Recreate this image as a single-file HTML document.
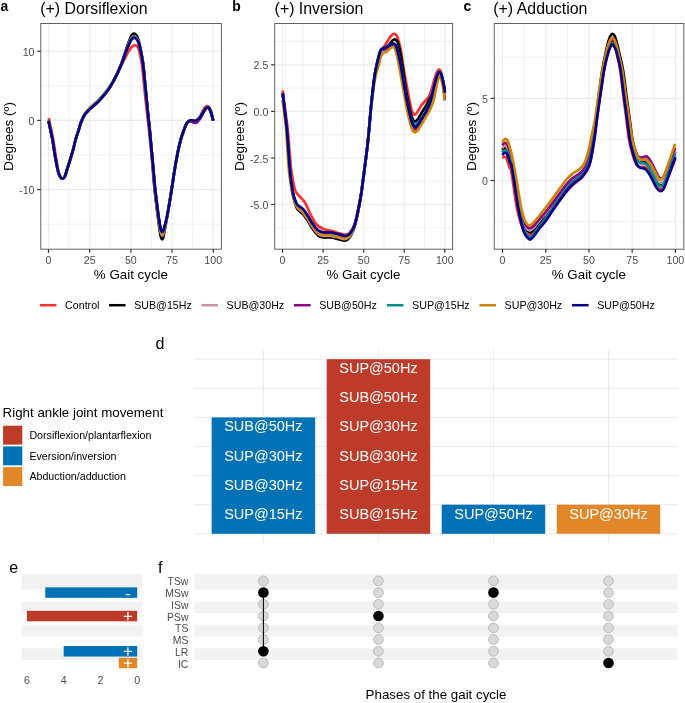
<!DOCTYPE html>
<html lang="en"><head><meta charset="utf-8"><title>Figure</title>
<style>html,body{margin:0;padding:0;background:#fff}body{width:685px;height:703px;overflow:hidden;font-family:"Liberation Sans",sans-serif}svg{display:block;will-change:transform}</style></head>
<body>
<svg width="685" height="703" viewBox="0 0 685 703" font-family='"Liberation Sans", sans-serif'>
<rect width="685" height="703" fill="#fff"/>
<g>
<rect x="40.8" y="23.5" width="180.6" height="225.7" fill="#fff"/>
<line x1="69.09" x2="69.09" y1="23.5" y2="249.2" stroke="#EBEBEB" stroke-width="0.7"/>
<line x1="110.26" x2="110.26" y1="23.5" y2="249.2" stroke="#EBEBEB" stroke-width="0.7"/>
<line x1="151.44" x2="151.44" y1="23.5" y2="249.2" stroke="#EBEBEB" stroke-width="0.7"/>
<line x1="192.61" x2="192.61" y1="23.5" y2="249.2" stroke="#EBEBEB" stroke-width="0.7"/>
<line x1="40.8" x2="221.4" y1="224.2" y2="224.2" stroke="#EBEBEB" stroke-width="0.7"/>
<line x1="40.8" x2="221.4" y1="155" y2="155" stroke="#EBEBEB" stroke-width="0.7"/>
<line x1="40.8" x2="221.4" y1="85.8" y2="85.8" stroke="#EBEBEB" stroke-width="0.7"/>
<line x1="48.5" x2="48.5" y1="23.5" y2="249.2" stroke="#EBEBEB" stroke-width="1.15"/>
<line x1="89.67" x2="89.67" y1="23.5" y2="249.2" stroke="#EBEBEB" stroke-width="1.15"/>
<line x1="130.85" x2="130.85" y1="23.5" y2="249.2" stroke="#EBEBEB" stroke-width="1.15"/>
<line x1="172.03" x2="172.03" y1="23.5" y2="249.2" stroke="#EBEBEB" stroke-width="1.15"/>
<line x1="213.2" x2="213.2" y1="23.5" y2="249.2" stroke="#EBEBEB" stroke-width="1.15"/>
<line x1="40.8" x2="221.4" y1="189.6" y2="189.6" stroke="#EBEBEB" stroke-width="1.15"/>
<line x1="40.8" x2="221.4" y1="120.4" y2="120.4" stroke="#EBEBEB" stroke-width="1.15"/>
<line x1="40.8" x2="221.4" y1="51.2" y2="51.2" stroke="#EBEBEB" stroke-width="1.15"/>
<path d="M48.8 118.1C49.17 119.85 50.25 125.01 51 128.63C51.74 132.25 52.48 135.33 53.26 139.82C54.04 144.32 54.82 150.4 55.68 155.6C56.55 160.79 57.66 167.45 58.45 171C59.24 174.55 59.75 175.62 60.44 176.9C61.13 178.18 61.86 178.77 62.59 178.7C63.33 178.63 63.98 178.37 64.83 176.5C65.68 174.63 66.36 171.83 67.7 167.5C69.05 163.17 71.6 155.08 72.9 150.5C74.2 145.92 74.53 143.42 75.5 140C76.47 136.58 77.78 132.93 78.7 130C79.62 127.07 80 124.95 81 122.4C82 119.85 83.25 116.92 84.7 114.7C86.15 112.48 87.48 111.23 89.7 109.1C91.92 106.97 95.48 104.38 98 101.9C100.52 99.42 102.75 96.75 104.8 94.2C106.85 91.65 108.3 89.83 110.3 86.61C112.3 83.4 114.87 78.61 116.8 74.91C118.73 71.22 120.2 67.91 121.9 64.45C123.6 60.98 125.52 56.86 127 54.13C128.48 51.39 129.9 49.33 130.8 48.04C131.69 46.74 131.88 46.78 132.39 46.36C132.9 45.95 133.35 45.65 133.87 45.52C134.39 45.39 134.97 45.43 135.51 45.56C136.05 45.68 136.51 45.47 137.11 46.27C137.7 47.07 138.25 47.21 139.07 50.35C139.89 53.48 141.11 58.57 142.01 65.09C142.92 71.6 143.64 81.24 144.5 89.46C145.36 97.68 146.42 107.6 147.17 114.4C147.93 121.2 148.18 121.96 149.04 130.26C149.89 138.55 151.39 154.25 152.31 164.16C153.24 174.07 153.63 181.19 154.56 189.72C155.49 198.24 157.01 209.06 157.92 215.3C158.83 221.55 159.48 224.62 160.01 227.2C160.54 229.78 160.74 230 161.1 230.8C161.47 231.6 161.82 232 162.18 232C162.53 232 162.86 231.6 163.23 230.8C163.59 230 163.69 229.78 164.36 227.2C165.04 224.62 166.09 221.55 167.3 215.3C168.5 209.05 170.22 198.23 171.6 189.7C172.98 181.17 174.25 171.78 175.6 164.1C176.95 156.42 178.32 149.28 179.7 143.6C181.08 137.92 182.63 133.52 183.9 130.01C185.17 126.51 186.17 124.05 187.3 122.59C188.43 121.13 189.3 121.25 190.7 121.25C192.09 121.26 194.23 123.21 195.67 122.64C197.12 122.08 198.09 120.04 199.39 117.86C200.69 115.68 202.43 111.4 203.48 109.57C204.52 107.74 205 107.46 205.65 106.88C206.31 106.31 206.81 106.01 207.4 106.11C207.99 106.21 208.58 106.45 209.21 107.48C209.83 108.5 210.47 110.1 211.13 112.25C211.8 114.39 212.84 119 213.18 120.35" fill="none" stroke="#FF3030" stroke-width="2.7" stroke-linejoin="round" stroke-linecap="butt"/>
<path d="M48.5 120.7C48.83 122.25 49.82 126.78 50.5 130C51.18 133.22 51.85 135.73 52.6 140C53.35 144.27 54.1 150.43 55 155.6C55.9 160.77 57.13 167.45 58 171C58.87 174.55 59.45 175.62 60.2 176.9C60.95 178.18 61.73 178.77 62.5 178.7C63.27 178.63 63.93 178.37 64.8 176.5C65.67 174.63 66.35 171.83 67.7 167.5C69.05 163.17 71.6 155.08 72.9 150.5C74.2 145.92 74.53 143.42 75.5 140C76.47 136.58 77.78 132.93 78.7 130C79.62 127.07 80 124.95 81 122.4C82 119.85 83.25 116.92 84.7 114.7C86.15 112.48 87.48 111.23 89.7 109.1C91.92 106.97 95.48 104.38 98 101.9C100.52 99.42 102.75 96.75 104.8 94.2C106.85 91.65 108.3 89.88 110.3 86.6C112.3 83.32 114.87 78.61 116.8 74.53C118.73 70.45 120.2 66.75 121.9 62.12C123.6 57.48 125.52 50.94 127 46.72C128.48 42.5 129.9 38.84 130.8 36.79C131.7 34.74 131.88 34.95 132.4 34.42C132.92 33.9 133.37 33.62 133.9 33.65C134.43 33.68 135.03 34.06 135.6 34.6C136.17 35.14 136.65 35.42 137.3 36.9C137.95 38.39 138.57 39.38 139.5 43.53C140.43 47.69 141.9 54.43 142.9 61.84C143.9 69.24 144.65 79.29 145.5 87.95C146.34 96.61 147.29 106.78 147.98 113.78C148.67 120.78 148.86 121.56 149.64 129.95C150.42 138.33 151.79 154.12 152.64 164.1C153.5 174.07 153.88 180.93 154.76 189.79C155.64 198.65 157.07 210.16 157.94 217.26C158.81 224.35 159.46 228.99 159.98 232.36C160.5 235.74 160.7 236.34 161.06 237.5C161.42 238.65 161.78 239.3 162.14 239.3C162.49 239.3 162.83 238.68 163.2 237.5C163.57 236.31 163.66 235.74 164.34 232.18C165.03 228.63 166.08 223.22 167.29 216.14C168.5 209.06 170.22 198.38 171.6 189.7C172.98 181.03 174.25 171.78 175.6 164.1C176.95 156.42 178.32 149.28 179.7 143.6C181.08 137.92 182.63 133.53 183.9 130C185.17 126.47 186.17 124.02 187.3 122.4C188.43 120.78 189.28 120.58 190.7 120.3C192.12 120.02 194.23 121.2 195.8 120.7C197.37 120.2 198.67 119.02 200.1 117.3C201.53 115.58 203.37 111.93 204.4 110.4C205.43 108.87 205.73 108.6 206.3 108.1C206.87 107.6 207.28 107.32 207.8 107.4C208.32 107.48 208.83 107.67 209.4 108.6C209.97 109.53 210.57 110.98 211.2 113C211.83 115.02 212.87 119.42 213.2 120.7" fill="none" stroke="#000000" stroke-width="2.7" stroke-linejoin="round" stroke-linecap="butt"/>
<path d="M48.5 120.7C48.83 122.25 49.82 126.78 50.5 130C51.18 133.22 51.85 135.73 52.6 140C53.35 144.27 54.1 150.43 55 155.6C55.9 160.77 57.13 167.45 58 171C58.87 174.55 59.45 175.62 60.2 176.9C60.95 178.18 61.73 178.77 62.5 178.7C63.27 178.63 63.93 178.37 64.8 176.5C65.67 174.63 66.35 171.83 67.7 167.5C69.05 163.17 71.6 155.08 72.9 150.5C74.2 145.92 74.53 143.42 75.5 140C76.47 136.58 77.78 132.93 78.7 130C79.62 127.07 80 124.95 81 122.4C82 119.85 83.25 116.92 84.7 114.7C86.15 112.48 87.48 111.23 89.7 109.1C91.92 106.97 95.48 104.38 98 101.9C100.52 99.42 102.75 96.75 104.8 94.2C106.85 91.65 108.3 89.87 110.3 86.6C112.3 83.33 114.87 78.59 116.8 74.58C118.73 70.56 120.2 66.89 121.9 62.48C123.6 58.08 125.52 52.04 127 48.15C128.48 44.25 129.9 40.98 130.8 39.11C131.7 37.24 131.88 37.41 132.4 36.91C132.92 36.41 133.37 36.13 133.9 36.12C134.43 36.11 135.03 36.41 135.6 36.85C136.17 37.29 136.65 37.45 137.3 38.78C137.95 40.11 138.57 40.89 139.5 44.82C140.43 48.76 141.9 55.15 142.9 62.38C143.9 69.6 144.65 79.59 145.5 88.17C146.35 96.75 147.3 106.89 148 113.86C148.7 120.82 148.88 121.61 149.7 129.98C150.52 138.35 151.98 154.14 152.9 164.1C153.82 174.06 154.28 181.06 155.2 189.73C156.12 198.4 157.55 209.46 158.4 216.12C159.25 222.77 159.82 226.64 160.3 229.64C160.78 232.63 160.97 233.07 161.3 234.07C161.63 235.06 161.97 235.6 162.3 235.6C162.63 235.6 162.95 235.08 163.3 234.07C163.65 233.06 163.73 232.62 164.4 229.54C165.07 226.46 166.1 222.25 167.3 215.61C168.5 208.97 170.22 198.29 171.6 189.7C172.98 181.12 174.25 171.78 175.6 164.1C176.95 156.42 178.32 149.28 179.7 143.6C181.08 137.92 182.63 133.53 183.9 130C185.17 126.47 186.17 124.02 187.3 122.4C188.43 120.78 189.28 120.58 190.7 120.3C192.12 120.02 194.23 121.2 195.8 120.7C197.37 120.2 198.67 119.02 200.1 117.3C201.53 115.58 203.37 111.93 204.4 110.4C205.43 108.87 205.73 108.6 206.3 108.1C206.87 107.6 207.28 107.32 207.8 107.4C208.32 107.48 208.83 107.67 209.4 108.6C209.97 109.53 210.57 110.98 211.2 113C211.83 115.02 212.87 119.42 213.2 120.7" fill="none" stroke="#CD919E" stroke-width="2.7" stroke-linejoin="round" stroke-linecap="butt"/>
<path d="M48.5 120.7C48.83 122.25 49.82 126.78 50.5 130C51.18 133.22 51.85 135.73 52.6 140C53.35 144.27 54.1 150.43 55 155.6C55.9 160.77 57.13 167.45 58 171C58.87 174.55 59.45 175.62 60.2 176.9C60.95 178.18 61.73 178.77 62.5 178.7C63.27 178.63 63.93 178.37 64.8 176.5C65.67 174.63 66.35 171.83 67.7 167.5C69.05 163.17 71.6 155.08 72.9 150.5C74.2 145.92 74.53 143.42 75.5 140C76.47 136.58 77.78 132.93 78.7 130C79.62 127.07 80 124.95 81 122.4C82 119.85 83.25 116.92 84.7 114.7C86.15 112.48 87.48 111.23 89.7 109.1C91.92 106.97 95.48 104.38 98 101.9C100.52 99.42 102.75 96.75 104.8 94.2C106.85 91.65 108.3 89.87 110.3 86.6C112.3 83.33 114.87 78.58 116.8 74.6C118.73 70.62 120.2 66.97 121.9 62.7C123.6 58.43 125.52 52.7 127 49C128.48 45.3 129.9 42.27 130.8 40.5C131.7 38.73 131.88 38.88 132.4 38.4C132.92 37.92 133.37 37.63 133.9 37.6C134.43 37.57 135.03 37.82 135.6 38.2C136.17 38.58 136.65 38.67 137.3 39.9C137.95 41.13 138.57 41.8 139.5 45.6C140.43 49.4 141.9 55.58 142.9 62.7C143.9 69.82 144.65 79.77 145.5 88.3C146.35 96.83 147.3 106.95 148 113.9C148.7 120.85 148.88 121.63 149.7 130C150.52 138.37 151.98 154.15 152.9 164.1C153.82 174.05 154.28 181.14 155.2 189.71C156.12 198.29 157.55 209.19 158.4 215.55C159.25 221.91 159.82 225.18 160.3 227.87C160.78 230.56 160.97 230.84 161.3 231.69C161.63 232.54 161.97 232.99 162.3 233C162.63 233.01 162.95 232.59 163.3 231.75C163.65 230.91 163.73 230.66 164.4 227.94C165.07 225.23 166.1 221.83 167.3 215.45C168.5 209.08 170.22 198.26 171.6 189.7C172.98 181.14 174.25 171.78 175.6 164.1C176.95 156.42 178.32 149.28 179.7 143.6C181.08 137.92 182.63 133.53 183.9 130.04C185.17 126.55 186.17 124.12 187.3 122.67C188.43 121.21 189.28 121.27 190.7 121.31C192.12 121.35 194.23 123.34 195.8 122.9C197.37 122.46 198.67 120.71 200.1 118.68C201.53 116.65 203.37 112.45 204.4 110.71C205.43 108.97 205.73 108.76 206.3 108.22C206.87 107.67 207.28 107.38 207.8 107.45C208.32 107.51 208.83 107.69 209.4 108.62C209.97 109.54 210.57 110.99 211.2 113C211.83 115.02 212.87 119.42 213.2 120.7" fill="none" stroke="#8B008B" stroke-width="2.7" stroke-linejoin="round" stroke-linecap="butt"/>
<path d="M48.5 120.7C48.83 122.25 49.82 126.78 50.5 130C51.18 133.22 51.85 135.73 52.6 140C53.35 144.27 54.1 150.43 55 155.6C55.9 160.77 57.13 167.45 58 171C58.87 174.55 59.45 175.62 60.2 176.9C60.95 178.18 61.73 178.77 62.5 178.7C63.27 178.63 63.93 178.37 64.8 176.5C65.67 174.63 66.35 171.83 67.7 167.49C69.05 163.16 71.6 155.06 72.9 150.47C74.2 145.88 74.53 143.37 75.5 139.94C76.47 136.51 77.78 132.83 78.7 129.87C79.62 126.91 80 124.79 81 122.19C82 119.6 83.25 116.61 84.7 114.31C86.15 112 87.48 110.62 89.7 108.34C91.92 106.06 95.48 103.18 98 100.63C100.52 98.08 102.75 95.51 104.8 93.04C106.85 90.58 108.3 88.97 110.3 85.84C112.3 82.71 114.87 78.18 116.8 74.28C118.73 70.38 120.2 66.75 121.9 62.44C123.6 58.13 125.52 52.21 127 48.4C128.48 44.59 129.9 41.4 130.8 39.56C131.7 37.73 131.88 37.89 132.4 37.4C132.92 36.91 133.37 36.63 133.9 36.61C134.43 36.59 135.03 36.87 135.6 37.3C136.17 37.72 136.65 37.85 137.3 39.15C137.95 40.45 138.57 41.19 139.5 45.08C140.43 48.97 141.9 55.3 142.9 62.48C143.9 69.67 144.65 79.65 145.5 88.21C146.35 96.78 147.3 106.91 148 113.87C148.7 120.83 148.88 121.62 149.7 129.99C150.52 138.36 151.98 154.14 152.9 164.1C153.82 174.05 154.28 181.12 155.2 189.72C156.12 198.32 157.55 209.27 158.4 215.68C159.25 222.1 159.82 225.47 160.3 228.21C160.78 230.95 160.97 231.25 161.3 232.13C161.63 233.01 161.97 233.48 162.3 233.5C162.63 233.51 162.95 233.09 163.3 232.22C163.65 231.36 163.73 231.1 164.4 228.32C165.07 225.53 166.1 221.96 167.3 215.53C168.5 209.09 170.22 198.27 171.6 189.7C172.98 181.13 174.25 171.78 175.6 164.1C176.95 156.42 178.32 149.28 179.7 143.6C181.08 137.92 182.63 133.53 183.9 130C185.17 126.47 186.17 124.02 187.3 122.4C188.43 120.78 189.28 120.58 190.7 120.3C192.12 120.02 194.23 121.2 195.8 120.7C197.37 120.2 198.67 119.02 200.1 117.3C201.53 115.58 203.37 111.93 204.4 110.4C205.43 108.87 205.73 108.6 206.3 108.1C206.87 107.6 207.28 107.32 207.8 107.4C208.32 107.48 208.83 107.67 209.4 108.6C209.97 109.53 210.57 110.98 211.2 113C211.83 115.02 212.87 119.42 213.2 120.7" fill="none" stroke="#008B8B" stroke-width="2.7" stroke-linejoin="round" stroke-linecap="butt"/>
<path d="M48.5 120.7C48.83 122.25 49.82 126.78 50.5 130C51.18 133.22 51.85 135.73 52.6 140C53.35 144.27 54.1 150.43 55 155.6C55.9 160.77 57.13 167.45 58 171C58.87 174.55 59.45 175.62 60.2 176.9C60.95 178.18 61.73 178.76 62.5 178.7C63.27 178.63 63.93 178.36 64.8 176.49C65.67 174.62 66.35 171.82 67.7 167.48C69.05 163.14 71.6 155.03 72.9 150.43C74.2 145.82 74.53 143.31 75.5 139.87C76.47 136.43 77.78 132.73 78.7 129.77C79.62 126.8 80 124.67 81 122.07C82 119.47 83.25 116.47 84.7 114.18C86.15 111.88 87.48 110.51 89.7 108.32C91.92 106.13 95.48 103.49 98 101.04C100.52 98.6 102.75 96.1 104.8 93.65C106.85 91.2 108.3 89.52 110.3 86.33C112.3 83.14 114.87 78.47 116.8 74.51C118.73 70.56 120.2 66.9 121.9 62.6C123.6 58.3 125.52 52.47 127 48.71C128.48 44.95 129.9 41.84 130.8 40.04C131.7 38.23 131.88 38.39 132.4 37.9C132.92 37.41 133.37 37.13 133.9 37.11C134.43 37.08 135.03 37.35 135.6 37.75C136.17 38.15 136.65 38.26 137.3 39.53C137.95 40.79 138.57 41.5 139.5 45.34C140.43 49.19 141.9 55.44 142.9 62.59C143.9 69.74 144.65 79.71 145.5 88.26C146.35 96.81 147.3 106.93 147.99 113.89C148.69 120.84 148.88 121.62 149.68 129.99C150.48 138.36 151.91 154.15 152.79 164.1C153.68 174.05 154.1 181.11 154.98 189.71C155.87 198.32 157.26 209.28 158.1 215.75C158.95 222.23 159.56 225.74 160.06 228.55C160.56 231.36 160.76 231.71 161.11 232.61C161.46 233.52 161.81 234 162.16 234C162.51 234 162.84 233.53 163.2 232.61C163.57 231.7 163.66 231.36 164.34 228.5C165.02 225.64 166.08 221.94 167.29 215.47C168.5 209.01 170.21 198.26 171.6 189.7C172.98 181.14 174.25 171.78 175.6 164.1C176.95 156.42 178.32 149.28 179.7 143.6C181.08 137.92 182.63 133.53 183.9 130C185.17 126.47 186.17 124.02 187.3 122.4C188.43 120.78 189.28 120.58 190.7 120.3C192.12 120.02 194.23 121.2 195.8 120.7C197.37 120.2 198.67 119.02 200.1 117.3C201.53 115.58 203.37 111.93 204.4 110.4C205.43 108.87 205.73 108.6 206.3 108.1C206.87 107.6 207.28 107.32 207.8 107.4C208.32 107.48 208.83 107.67 209.4 108.6C209.97 109.53 210.57 110.98 211.2 113C211.83 115.02 212.87 119.42 213.2 120.7" fill="none" stroke="#CD8500" stroke-width="2.7" stroke-linejoin="round" stroke-linecap="butt"/>
<path d="M48.5 120.7C48.83 122.25 49.82 126.78 50.5 130C51.18 133.22 51.85 135.73 52.6 140C53.35 144.27 54.1 150.43 55 155.6C55.9 160.77 57.13 167.45 58 171C58.87 174.55 59.45 175.62 60.2 176.9C60.95 178.18 61.73 178.77 62.5 178.7C63.27 178.63 63.93 178.37 64.8 176.5C65.67 174.63 66.35 171.83 67.7 167.5C69.05 163.17 71.6 155.08 72.9 150.5C74.2 145.92 74.53 143.42 75.5 140C76.47 136.58 77.78 132.93 78.7 130C79.62 127.07 80 124.95 81 122.4C82 119.85 83.25 116.92 84.7 114.7C86.15 112.48 87.48 111.23 89.7 109.1C91.92 106.97 95.48 104.38 98 101.9C100.52 99.42 102.75 96.75 104.8 94.2C106.85 91.65 108.3 89.87 110.3 86.6C112.3 83.33 114.87 78.58 116.8 74.6C118.73 70.62 120.2 66.97 121.9 62.7C123.6 58.43 125.52 52.7 127 49C128.48 45.3 129.9 42.27 130.8 40.5C131.7 38.73 131.88 38.88 132.4 38.4C132.92 37.92 133.37 37.63 133.9 37.6C134.43 37.57 135.03 37.82 135.6 38.2C136.17 38.58 136.65 38.67 137.3 39.9C137.95 41.13 138.57 41.8 139.5 45.6C140.43 49.4 141.9 55.58 142.9 62.7C143.9 69.82 144.65 79.77 145.5 88.3C146.35 96.83 147.3 106.95 148 113.9C148.7 120.85 148.88 121.63 149.7 130C150.52 138.37 151.98 154.15 152.9 164.1C153.82 174.05 154.28 181.17 155.2 189.7C156.12 198.23 157.55 209.05 158.4 215.3C159.25 221.55 159.82 224.62 160.3 227.2C160.78 229.78 160.97 230 161.3 230.8C161.63 231.6 161.97 232 162.3 232C162.63 232 162.95 231.6 163.3 230.8C163.65 230 163.73 229.78 164.4 227.2C165.07 224.62 166.1 221.55 167.3 215.3C168.5 209.05 170.22 198.23 171.6 189.7C172.98 181.17 174.25 171.78 175.6 164.1C176.95 156.42 178.32 149.28 179.7 143.6C181.08 137.92 182.63 133.53 183.9 130C185.17 126.47 186.17 124.02 187.3 122.4C188.43 120.78 189.28 120.58 190.7 120.3C192.12 120.02 194.23 121.2 195.8 120.7C197.37 120.2 198.67 119.02 200.1 117.3C201.53 115.58 203.37 111.93 204.4 110.4C205.43 108.87 205.73 108.6 206.3 108.1C206.87 107.6 207.28 107.32 207.8 107.4C208.32 107.48 208.83 107.67 209.4 108.6C209.97 109.53 210.57 110.98 211.2 113C211.83 115.02 212.87 119.42 213.2 120.7" fill="none" stroke="#00008B" stroke-width="2.7" stroke-linejoin="round" stroke-linecap="butt"/>
<rect x="40.8" y="23.5" width="180.6" height="225.7" fill="none" stroke="#626262" stroke-width="1.0"/>
<line x1="48.5" x2="48.5" y1="249.2" y2="252.8" stroke="#333333" stroke-width="1.2"/>
<text x="48.5" y="263.5" font-size="10.67" text-anchor="middle" fill="#4D4D4D" font-weight="normal">0</text>
<line x1="89.67" x2="89.67" y1="249.2" y2="252.8" stroke="#333333" stroke-width="1.2"/>
<text x="89.67" y="263.5" font-size="10.67" text-anchor="middle" fill="#4D4D4D" font-weight="normal">25</text>
<line x1="130.85" x2="130.85" y1="249.2" y2="252.8" stroke="#333333" stroke-width="1.2"/>
<text x="130.85" y="263.5" font-size="10.67" text-anchor="middle" fill="#4D4D4D" font-weight="normal">50</text>
<line x1="172.03" x2="172.03" y1="249.2" y2="252.8" stroke="#333333" stroke-width="1.2"/>
<text x="172.03" y="263.5" font-size="10.67" text-anchor="middle" fill="#4D4D4D" font-weight="normal">75</text>
<line x1="213.2" x2="213.2" y1="249.2" y2="252.8" stroke="#333333" stroke-width="1.2"/>
<text x="213.2" y="263.5" font-size="10.67" text-anchor="middle" fill="#4D4D4D" font-weight="normal">100</text>
<line x1="37.2" x2="40.8" y1="189.6" y2="189.6" stroke="#333333" stroke-width="1.2"/>
<text x="34.5" y="194.2" font-size="10.67" text-anchor="end" fill="#4D4D4D" font-weight="normal">-10</text>
<line x1="37.2" x2="40.8" y1="120.4" y2="120.4" stroke="#333333" stroke-width="1.2"/>
<text x="34.5" y="125" font-size="10.67" text-anchor="end" fill="#4D4D4D" font-weight="normal">0</text>
<line x1="37.2" x2="40.8" y1="51.2" y2="51.2" stroke="#333333" stroke-width="1.2"/>
<text x="34.5" y="55.8" font-size="10.67" text-anchor="end" fill="#4D4D4D" font-weight="normal">10</text>
<text x="130.9" y="279.4" font-size="13.33" text-anchor="middle" fill="#000" font-weight="normal">% Gait cycle</text>
</g>
<g>
<rect x="274.7" y="23.5" width="177.9" height="225.7" fill="#fff"/>
<line x1="302.83" x2="302.83" y1="23.5" y2="249.2" stroke="#EBEBEB" stroke-width="0.7"/>
<line x1="343.39" x2="343.39" y1="23.5" y2="249.2" stroke="#EBEBEB" stroke-width="0.7"/>
<line x1="383.96" x2="383.96" y1="23.5" y2="249.2" stroke="#EBEBEB" stroke-width="0.7"/>
<line x1="424.52" x2="424.52" y1="23.5" y2="249.2" stroke="#EBEBEB" stroke-width="0.7"/>
<line x1="274.7" x2="452.6" y1="227.78" y2="227.78" stroke="#EBEBEB" stroke-width="0.7"/>
<line x1="274.7" x2="452.6" y1="181.23" y2="181.23" stroke="#EBEBEB" stroke-width="0.7"/>
<line x1="274.7" x2="452.6" y1="134.68" y2="134.68" stroke="#EBEBEB" stroke-width="0.7"/>
<line x1="274.7" x2="452.6" y1="88.12" y2="88.12" stroke="#EBEBEB" stroke-width="0.7"/>
<line x1="274.7" x2="452.6" y1="41.58" y2="41.58" stroke="#EBEBEB" stroke-width="0.7"/>
<line x1="282.55" x2="282.55" y1="23.5" y2="249.2" stroke="#EBEBEB" stroke-width="1.15"/>
<line x1="323.11" x2="323.11" y1="23.5" y2="249.2" stroke="#EBEBEB" stroke-width="1.15"/>
<line x1="363.68" x2="363.68" y1="23.5" y2="249.2" stroke="#EBEBEB" stroke-width="1.15"/>
<line x1="404.24" x2="404.24" y1="23.5" y2="249.2" stroke="#EBEBEB" stroke-width="1.15"/>
<line x1="444.8" x2="444.8" y1="23.5" y2="249.2" stroke="#EBEBEB" stroke-width="1.15"/>
<line x1="274.7" x2="452.6" y1="204.5" y2="204.5" stroke="#EBEBEB" stroke-width="1.15"/>
<line x1="274.7" x2="452.6" y1="157.95" y2="157.95" stroke="#EBEBEB" stroke-width="1.15"/>
<line x1="274.7" x2="452.6" y1="111.4" y2="111.4" stroke="#EBEBEB" stroke-width="1.15"/>
<line x1="274.7" x2="452.6" y1="64.85" y2="64.85" stroke="#EBEBEB" stroke-width="1.15"/>
<path d="M282.7 90.5C283.08 93.42 284.35 103.08 285 108C285.65 112.92 286.13 116.33 286.6 120C287.07 123.67 287.37 125.48 287.8 130C288.23 134.52 288.63 140.43 289.2 147.1C289.77 153.77 290.45 163.85 291.2 170C291.95 176.15 292.97 180.43 293.7 184C294.43 187.57 294.57 189.3 295.6 191.4C296.63 193.5 298.33 194.75 299.9 196.6C301.47 198.45 303.3 199.67 305 202.5C306.7 205.33 308.25 210.03 310.1 213.6C311.95 217.17 313.97 221.37 316.1 223.9C318.23 226.43 320.35 227.63 322.9 228.8C325.45 229.97 328.83 230.2 331.4 230.9C333.97 231.6 336.17 232.37 338.3 233C340.43 233.63 342.67 234.5 344.2 234.7C345.73 234.9 346.5 234.6 347.5 234.2C348.5 233.8 349.07 233.9 350.2 232.3C351.33 230.7 353.05 228.15 354.3 224.6C355.55 221.05 356.55 216.35 357.7 211C358.85 205.65 360.03 199.75 361.2 192.5C362.37 185.25 363.68 175.07 364.7 167.5C365.72 159.93 366.58 153.35 367.3 147.1C368.02 140.85 368.35 136.97 369 130C369.65 123.03 370.27 114.25 371.2 105.3C372.13 96.35 373.68 83.02 374.6 76.3C375.53 69.58 376.1 68.1 376.75 65C377.4 61.9 377.88 60.08 378.5 57.7C379.12 55.32 379.75 52.35 380.5 50.7C381.25 49.05 382.27 48.68 383 47.8C383.73 46.92 384.1 46.57 384.9 45.4C385.7 44.23 386.82 42.35 387.8 40.8C388.78 39.25 389.98 37.18 390.8 36.1C391.62 35.02 392.12 34.68 392.7 34.3C393.28 33.92 393.78 33.75 394.3 33.8C394.82 33.85 395.32 34.12 395.8 34.6C396.28 35.08 396.58 35.08 397.2 36.7C397.82 38.32 398.77 41.38 399.5 44.3C400.23 47.22 401.02 50.75 401.6 54.2C402.18 57.65 401.87 58.2 403 65C404.13 71.8 407.25 88.73 408.4 95C409.55 101.27 409.37 100.07 409.9 102.6C410.43 105.13 411.07 108.35 411.6 110.2C412.13 112.05 412.6 112.97 413.1 113.7C413.6 114.43 414.02 114.7 414.6 114.6C415.18 114.5 415.88 113.93 416.6 113.1C417.32 112.27 418.12 110.87 418.9 109.6C419.68 108.33 420.42 106.77 421.3 105.5C422.18 104.23 423.23 103.07 424.2 102C425.17 100.93 426.23 100.17 427.1 99.1C427.98 98.03 428.75 97.05 429.45 95.6C430.15 94.15 430.54 92.83 431.3 90.4C432.06 87.97 433.18 83.73 434 81C434.82 78.27 435.53 75.75 436.2 74C436.87 72.25 437.48 71.22 438 70.5C438.52 69.78 438.88 69.62 439.3 69.7C439.72 69.78 440.17 70.37 440.5 71C440.83 71.63 440.87 71.73 441.3 73.5C441.73 75.27 442.57 78.98 443.1 81.6C443.63 84.22 444.22 87.35 444.5 89.2C444.78 91.05 444.75 92.12 444.8 92.7" fill="none" stroke="#FF3030" stroke-width="2.7" stroke-linejoin="round" stroke-linecap="butt"/>
<path d="M282.7 93.42C282.98 95.86 283.88 103.6 284.4 108.04C284.92 112.49 285.38 116.4 285.8 120.08C286.22 123.77 286.5 125.6 286.9 130.14C287.3 134.69 287.67 140.17 288.2 147.37C288.73 154.56 289.3 165.39 290.1 173.34C290.9 181.28 291.93 189.35 293 195.03C294.07 200.7 295.33 204.59 296.5 207.36C297.67 210.14 298.87 210.48 300 211.66C301.13 212.84 302.05 213 303.3 214.45C304.55 215.91 305.93 217.97 307.5 220.39C309.07 222.82 310.85 226.43 312.7 229C314.55 231.57 316.62 234.38 318.6 235.8C320.58 237.22 322.47 237.22 324.6 237.5C326.73 237.78 329.12 237.22 331.4 237.5C333.68 237.78 336.17 238.65 338.3 239.18C340.43 239.71 342.67 240.62 344.2 240.68C345.73 240.75 346.5 240.25 347.5 239.58C348.5 238.9 349.03 238.73 350.2 236.63C351.37 234.53 353.22 231.02 354.5 226.97C355.78 222.92 356.77 217.97 357.9 212.34C359.03 206.71 360.17 200.69 361.3 193.22C362.43 185.75 363.7 175.22 364.7 167.53C365.7 159.85 366.58 153.37 367.3 147.11C368.02 140.86 368.35 136.97 369 130.01C369.65 123.04 370.27 114.25 371.2 105.3C372.13 96.35 373.68 83.02 374.6 76.3C375.53 69.58 376.1 68.1 376.75 65C377.4 61.9 377.88 60.08 378.5 57.7C379.12 55.32 379.72 52.25 380.5 50.7C381.28 49.15 382.17 49.03 383.2 48.4C384.23 47.77 385.53 47.72 386.7 46.9C387.87 46.08 389.23 44.57 390.2 43.5C391.17 42.43 391.77 41.2 392.5 40.5C393.23 39.8 393.97 39.33 394.6 39.3C395.23 39.27 395.77 39.77 396.3 40.3C396.83 40.83 397.17 40.67 397.8 42.5C398.43 44.33 399.33 47.55 400.1 51.3C400.87 55.05 401.65 60.22 402.4 65C403.15 69.78 403.87 75 404.6 80C405.33 85 406.13 91.03 406.8 95C407.47 98.97 407.97 100.8 408.6 103.8C409.23 106.8 409.93 110.5 410.6 113C411.27 115.5 411.89 117.37 412.6 118.8C413.31 120.23 414.18 121.3 414.85 121.6C415.52 121.9 416.01 121.13 416.6 120.6C417.19 120.07 417.52 119.75 418.4 118.4C419.28 117.05 420.73 114.45 421.9 112.5C423.07 110.55 424.33 108.55 425.4 106.7C426.47 104.85 427.42 102.98 428.3 101.4C429.18 99.82 429.93 98.85 430.7 97.2C431.47 95.55 432.1 94.2 432.9 91.5C433.7 88.8 434.73 83.82 435.5 81C436.27 78.18 436.98 76 437.5 74.6C438.02 73.2 438.26 73.03 438.6 72.6C438.94 72.17 439.23 71.97 439.55 72C439.87 72.03 440.21 72.37 440.5 72.8C440.79 73.23 440.87 73.13 441.3 74.6C441.73 76.07 442.57 79.17 443.1 81.6C443.63 84.03 444.22 87.35 444.5 89.2C444.78 91.05 444.75 92.12 444.8 92.7" fill="none" stroke="#000000" stroke-width="2.7" stroke-linejoin="round" stroke-linecap="butt"/>
<path d="M282.7 93.41C282.98 95.85 283.88 103.59 284.4 108.03C284.92 112.47 285.38 116.38 285.8 120.06C286.22 123.73 286.5 125.56 286.9 130.09C287.3 134.63 287.67 140.11 288.2 147.28C288.73 154.45 289.3 165.27 290.1 173.12C290.9 180.97 291.93 188.9 293 194.38C294.07 199.87 295.33 203.43 296.5 206.04C297.67 208.65 298.87 208.92 300 210.04C301.13 211.16 302.05 211.32 303.3 212.77C304.55 214.21 305.93 216.27 307.5 218.7C309.07 221.12 310.85 224.73 312.7 227.3C314.55 229.87 316.62 232.68 318.6 234.1C320.58 235.52 322.47 235.52 324.6 235.8C326.73 236.08 329.12 235.52 331.4 235.8C333.68 236.08 336.17 236.94 338.3 237.49C340.43 238.03 342.67 238.95 344.2 239.06C345.73 239.16 346.5 238.71 347.5 238.12C348.5 237.52 349.03 237.42 350.2 235.49C351.37 233.55 353.22 230.4 354.5 226.51C355.78 222.63 356.77 217.75 357.9 212.19C359.03 206.64 360.17 200.63 361.3 193.18C362.43 185.74 363.7 175.2 364.7 167.52C365.7 159.84 366.58 153.36 367.3 147.11C368.02 140.85 368.35 136.97 369 130C369.65 123.04 370.27 114.25 371.2 105.3C372.13 96.35 373.68 83.02 374.6 76.3C375.53 69.58 376.1 68.1 376.75 65C377.4 61.9 377.88 60.09 378.5 57.71C379.12 55.33 379.72 52.26 380.5 50.74C381.28 49.22 382.17 49.1 383.2 48.57C384.23 48.05 385.53 47.97 386.7 47.59C387.87 47.2 389.13 46.68 390.2 46.27C391.27 45.86 392.23 45.16 393.1 45.15C393.97 45.14 394.72 45.35 395.4 46.19C396.08 47.03 396.62 48.42 397.2 50.21C397.78 52 398.32 54.41 398.9 56.91C399.48 59.42 399.55 58.79 400.7 65.23C401.85 71.67 404.66 88.95 405.8 95.54C406.94 102.13 406.92 101.47 407.55 104.77C408.18 108.07 408.88 112.01 409.6 115.35C410.33 118.7 411.22 122.63 411.9 124.87C412.58 127.11 413.16 127.93 413.7 128.8C414.24 129.67 414.62 130.07 415.15 130.1C415.68 130.13 416.17 129.94 416.9 128.99C417.62 128.03 418.48 126.31 419.5 124.38C420.52 122.46 421.83 119.64 423 117.41C424.17 115.18 425.5 112.98 426.5 111C427.5 109.03 428.27 107.39 429 105.55C429.73 103.72 430.25 102.36 430.9 100.02C431.55 97.68 432.13 94.67 432.9 91.5C433.67 88.33 434.73 83.82 435.5 81C436.27 78.18 436.98 76 437.5 74.6C438.02 73.2 438.26 73.03 438.6 72.6C438.94 72.17 439.23 71.97 439.55 72C439.87 72.03 440.21 72.37 440.5 72.8C440.79 73.23 440.87 73.13 441.3 74.6C441.73 76.07 442.57 79.17 443.1 81.6C443.63 84.03 444.22 87.35 444.5 89.2C444.78 91.05 444.75 92.12 444.8 92.7" fill="none" stroke="#CD919E" stroke-width="2.7" stroke-linejoin="round" stroke-linecap="butt"/>
<path d="M282.7 93.41C282.98 95.84 283.88 103.58 284.4 108.01C284.92 112.45 285.38 116.35 285.8 120.03C286.22 123.7 286.5 125.52 286.9 130.04C287.3 134.57 287.67 140.04 288.2 147.18C288.73 154.33 289.3 165.15 290.1 172.9C290.9 180.65 291.93 188.41 293 193.7C294.07 198.99 295.33 202.21 296.5 204.64C297.67 207.08 298.87 207.27 300 208.32C301.13 209.38 302.05 209.56 303.3 210.98C304.55 212.41 305.93 214.48 307.5 216.9C309.07 219.32 310.85 222.93 312.7 225.5C314.55 228.07 316.62 230.88 318.6 232.3C320.58 233.72 322.47 233.72 324.6 234C326.73 234.28 329.12 233.72 331.4 234C333.68 234.28 336.17 235.14 338.3 235.69C340.43 236.25 342.67 237.19 344.2 237.33C345.73 237.48 346.5 237.08 347.5 236.57C348.5 236.06 349.03 236.03 350.2 234.28C351.37 232.52 353.22 229.74 354.5 226.03C355.78 222.32 356.77 217.52 357.9 212.04C359.03 206.56 360.17 200.56 361.3 193.14C362.43 185.72 363.7 175.18 364.7 167.51C365.7 159.84 366.58 153.35 367.3 147.1C368.02 140.85 368.35 136.97 369 130C369.65 123.03 370.27 114.25 371.2 105.3C372.13 96.35 373.68 83.02 374.6 76.3C375.53 69.59 376.1 68.11 376.75 65.03C377.4 61.95 377.88 60.14 378.5 57.82C379.12 55.5 379.72 52.47 380.5 51.11C381.28 49.74 382.17 49.97 383.2 49.63C384.23 49.3 385.53 49.64 386.7 49.09C387.87 48.55 389.13 47.18 390.2 46.36C391.27 45.54 392.23 44.38 393.1 44.2C393.97 44.01 394.72 44.34 395.4 45.23C396.08 46.12 396.62 47.66 397.2 49.54C397.78 51.42 398.32 53.94 398.9 56.52C399.48 59.1 399.55 58.56 400.7 65.03C401.85 71.5 404.66 88.79 405.8 95.36C406.94 101.92 406.92 101.2 407.55 104.44C408.18 107.69 408.88 111.54 409.6 114.8C410.33 118.07 411.22 121.87 411.9 124.04C412.58 126.22 413.16 126.99 413.7 127.83C414.24 128.67 414.62 129.06 415.15 129.1C415.68 129.14 416.17 128.95 416.9 128.06C417.62 127.16 418.48 125.54 419.5 123.72C420.52 121.9 421.83 119.27 423 117.14C424.17 115.01 425.5 112.87 426.5 110.93C427.5 109 428.27 107.36 429 105.54C429.73 103.72 430.25 102.35 430.9 100.01C431.55 97.67 432.13 94.67 432.9 91.5C433.67 88.33 434.73 83.82 435.5 81C436.27 78.18 436.98 76 437.5 74.6C438.02 73.2 438.26 73.03 438.6 72.6C438.94 72.17 439.23 71.97 439.55 72C439.87 72.03 440.21 72.36 440.5 72.8C440.79 73.24 440.87 72.92 441.3 74.64C441.73 76.36 442.57 79.59 443.1 83.12C443.63 86.65 444.22 92.92 444.5 95.81C444.78 98.7 444.75 99.67 444.8 100.44" fill="none" stroke="#8B008B" stroke-width="2.7" stroke-linejoin="round" stroke-linecap="butt"/>
<path d="M282.7 93.4C282.98 95.84 283.88 103.57 284.4 108.01C284.92 112.44 285.38 116.35 285.8 120.02C286.22 123.69 286.5 125.51 286.9 130.03C287.3 134.55 287.67 140.02 288.2 147.15C288.73 154.28 289.3 165.1 290.1 172.82C290.9 180.55 291.93 188.25 293 193.48C294.07 198.7 295.33 201.8 296.5 204.18C297.67 206.56 298.87 206.72 300 207.75C301.13 208.79 302.05 208.97 303.3 210.39C304.55 211.81 305.93 213.88 307.5 216.3C309.07 218.72 310.85 222.33 312.7 224.9C314.55 227.47 316.62 230.28 318.6 231.7C320.58 233.12 322.47 233.12 324.6 233.4C326.73 233.68 329.12 233.12 331.4 233.4C333.68 233.68 336.17 234.54 338.3 235.1C340.43 235.66 342.67 236.6 344.2 236.76C345.73 236.92 346.5 236.54 347.5 236.06C348.5 235.58 349.03 235.57 350.2 233.87C351.37 232.17 353.22 229.52 354.5 225.87C355.78 222.22 356.77 217.44 357.9 211.99C359.03 206.53 360.17 200.54 361.3 193.12C362.43 185.71 363.7 175.18 364.7 167.51C365.7 159.84 366.58 153.35 367.3 147.1C368.02 140.85 368.35 136.97 369 130C369.65 123.03 370.27 114.25 371.2 105.3C372.13 96.35 373.68 83.02 374.6 76.3C375.53 69.58 376.1 68.1 376.75 65C377.4 61.9 377.88 60.08 378.5 57.7C379.12 55.32 379.72 52.25 380.5 50.7C381.28 49.15 382.17 49.03 383.2 48.4C384.23 47.77 385.53 47.48 386.7 46.9C387.87 46.32 389.13 45.43 390.2 44.9C391.27 44.37 392.23 43.67 393.1 43.7C393.97 43.73 394.72 44.13 395.4 45.1C396.08 46.07 396.62 47.6 397.2 49.5C397.78 51.4 398.32 53.92 398.9 56.5C399.48 59.08 399.55 58.59 400.7 65C401.85 71.4 404.66 88.5 405.8 94.93C406.94 101.37 406.92 100.57 407.55 103.62C408.19 106.66 408.88 110.27 409.61 113.22C410.34 116.17 411.24 119.49 411.94 121.33C412.63 123.17 413.23 123.65 413.79 124.27C414.35 124.9 414.75 125.15 415.31 125.1C415.88 125.05 416.41 124.76 417.19 124C417.97 123.24 418.94 121.92 420 120.55C421.07 119.18 422.44 117.45 423.58 115.79C424.72 114.14 425.91 112.34 426.84 110.62C427.77 108.9 428.47 107.23 429.15 105.46C429.84 103.69 430.34 102.32 430.97 99.99C431.59 97.66 432.17 94.66 432.92 91.5C433.68 88.33 434.74 83.82 435.5 81C436.27 78.18 436.98 76 437.5 74.6C438.02 73.2 438.26 73.03 438.6 72.6C438.94 72.17 439.23 71.97 439.55 72C439.87 72.03 440.21 72.37 440.5 72.8C440.79 73.23 440.87 73.13 441.3 74.6C441.73 76.07 442.57 79.17 443.1 81.6C443.63 84.03 444.22 87.35 444.5 89.2C444.78 91.05 444.75 92.12 444.8 92.7" fill="none" stroke="#008B8B" stroke-width="2.7" stroke-linejoin="round" stroke-linecap="butt"/>
<path d="M282.52 99.91C282.77 101.7 283.57 107.27 284.01 110.68C284.46 114.09 284.85 117.14 285.2 120.37C285.56 123.61 285.79 125.62 286.15 130.1C286.5 134.57 286.81 140.08 287.32 147.23C287.84 154.38 288.38 165.2 289.24 173C290.11 180.8 291.33 188.63 292.53 194.01C293.72 199.38 295.16 202.75 296.41 205.27C297.65 207.78 298.84 208 299.99 209.09C301.14 210.17 302.05 210.34 303.3 211.78C304.55 213.21 305.93 215.28 307.5 217.7C309.07 220.12 310.85 223.73 312.7 226.3C314.55 228.87 316.62 231.68 318.6 233.1C320.58 234.52 322.47 234.52 324.6 234.8C326.73 235.08 329.12 234.52 331.4 234.8C333.68 235.08 336.17 235.94 338.3 236.49C340.43 237.04 342.67 237.97 344.2 238.1C345.73 238.23 346.5 237.81 347.5 237.26C348.5 236.71 349.03 236.65 350.2 234.81C351.37 232.98 353.22 230.03 354.5 226.25C355.78 222.46 356.77 217.62 357.9 212.11C359.03 206.59 360.17 200.59 361.3 193.16C362.43 185.72 363.7 175.19 364.7 167.51C365.7 159.84 366.58 153.36 367.3 147.11C368.02 140.85 368.32 136.97 369 130C369.68 123.04 370.37 113.97 371.4 105.3C372.43 96.63 373.97 84.72 375.2 78C376.43 71.28 377.87 68.58 378.8 65C379.73 61.42 380.07 58.5 380.8 56.5C381.53 54.5 382.22 53.82 383.2 53C384.18 52.18 385.53 52.37 386.7 51.6C387.87 50.83 389.13 49.18 390.2 48.4C391.27 47.62 392.28 46.82 393.1 46.9C393.92 46.98 394.47 47.48 395.1 48.9C395.73 50.32 396.27 52.72 396.9 55.4C397.53 58.08 397.67 58.4 398.9 65C400.13 71.6 403.1 88.35 404.3 95C405.5 101.65 405.47 101.58 406.1 104.9C406.73 108.22 407.37 111.68 408.1 114.9C408.83 118.12 409.77 121.68 410.5 124.2C411.23 126.72 411.77 128.63 412.5 130C413.23 131.37 414.02 132.3 414.85 132.4C415.68 132.5 416.62 131.58 417.5 130.6C418.38 129.62 419.08 128.15 420.1 126.5C421.12 124.85 422.43 122.63 423.6 120.7C424.77 118.77 425.93 116.95 427.1 114.9C428.27 112.85 429.53 110.75 430.6 108.4C431.67 106.05 432.73 103.45 433.5 100.8C434.27 98.15 434.57 95.55 435.2 92.5C435.83 89.45 436.73 84.95 437.3 82.5C437.87 80.05 438.23 78.82 438.6 77.8C438.98 76.78 439.23 76.5 439.55 76.4C439.87 76.3 440.21 76.68 440.5 77.2C440.79 77.72 440.88 77.87 441.3 79.5C441.72 81.13 442.47 83.58 443 87C443.53 90.42 444.25 97.83 444.5 100" fill="none" stroke="#CD8500" stroke-width="2.7" stroke-linejoin="round" stroke-linecap="butt"/>
<path d="M282.7 93.4C282.98 95.83 283.88 103.57 284.4 108C284.92 112.43 285.38 116.33 285.8 120C286.22 123.67 286.5 125.48 286.9 130C287.3 134.52 287.67 139.98 288.2 147.1C288.73 154.22 289.3 165.03 290.1 172.7C290.9 180.37 291.93 187.98 293 193.1C294.07 198.22 295.33 201.12 296.5 203.4C297.67 205.68 298.87 205.8 300 206.8C301.13 207.8 302.05 207.98 303.3 209.4C304.55 210.82 305.93 212.88 307.5 215.3C309.07 217.72 310.85 221.33 312.7 223.9C314.55 226.47 316.62 229.28 318.6 230.7C320.58 232.12 322.47 232.12 324.6 232.4C326.73 232.68 329.12 232.12 331.4 232.4C333.68 232.68 336.17 233.53 338.3 234.1C340.43 234.67 342.67 235.62 344.2 235.8C345.73 235.98 346.5 235.63 347.5 235.2C348.5 234.77 349.03 234.8 350.2 233.2C351.37 231.6 353.22 229.15 354.5 225.6C355.78 222.05 356.77 217.32 357.9 211.9C359.03 206.48 360.17 200.5 361.3 193.1C362.43 185.7 363.7 175.17 364.7 167.5C365.7 159.83 366.58 153.35 367.3 147.1C368.02 140.85 368.35 136.97 369 130C369.65 123.03 370.27 114.25 371.2 105.3C372.13 96.35 373.68 83.02 374.6 76.3C375.53 69.58 376.1 68.1 376.75 65C377.4 61.9 377.88 60.08 378.5 57.7C379.12 55.32 379.72 52.25 380.5 50.7C381.28 49.15 382.17 49.03 383.2 48.4C384.23 47.77 385.53 47.48 386.7 46.9C387.87 46.32 389.13 45.43 390.2 44.9C391.27 44.37 392.23 43.67 393.1 43.7C393.97 43.73 394.72 44.13 395.4 45.1C396.08 46.07 396.62 47.6 397.2 49.5C397.78 51.4 398.32 53.92 398.9 56.5C399.48 59.08 399.55 58.58 400.7 65C401.85 71.42 404.66 88.53 405.8 95C406.94 101.47 406.92 100.68 407.55 103.8C408.18 106.92 408.88 110.6 409.6 113.7C410.33 116.8 411.22 120.37 411.9 122.4C412.58 124.43 413.16 125.12 413.7 125.9C414.24 126.68 414.62 127.05 415.15 127.1C415.68 127.15 416.17 126.98 416.9 126.2C417.62 125.42 418.48 124 419.5 122.4C420.52 120.8 421.83 118.53 423 116.6C424.17 114.67 425.5 112.65 426.5 110.8C427.5 108.95 428.27 107.3 429 105.5C429.73 103.7 430.25 102.33 430.9 100C431.55 97.67 432.13 94.67 432.9 91.5C433.67 88.33 434.73 83.82 435.5 81C436.27 78.18 436.98 76 437.5 74.6C438.02 73.2 438.26 73.03 438.6 72.6C438.94 72.17 439.23 71.97 439.55 72C439.87 72.03 440.21 72.37 440.5 72.8C440.79 73.23 440.87 73.13 441.3 74.6C441.73 76.07 442.57 79.17 443.1 81.6C443.63 84.03 444.22 87.35 444.5 89.2C444.78 91.05 444.75 92.12 444.8 92.7" fill="none" stroke="#00008B" stroke-width="2.7" stroke-linejoin="round" stroke-linecap="butt"/>
<rect x="274.7" y="23.5" width="177.9" height="225.7" fill="none" stroke="#626262" stroke-width="1.0"/>
<line x1="282.55" x2="282.55" y1="249.2" y2="252.8" stroke="#333333" stroke-width="1.2"/>
<text x="282.55" y="263.5" font-size="10.67" text-anchor="middle" fill="#4D4D4D" font-weight="normal">0</text>
<line x1="323.11" x2="323.11" y1="249.2" y2="252.8" stroke="#333333" stroke-width="1.2"/>
<text x="323.11" y="263.5" font-size="10.67" text-anchor="middle" fill="#4D4D4D" font-weight="normal">25</text>
<line x1="363.68" x2="363.68" y1="249.2" y2="252.8" stroke="#333333" stroke-width="1.2"/>
<text x="363.68" y="263.5" font-size="10.67" text-anchor="middle" fill="#4D4D4D" font-weight="normal">50</text>
<line x1="404.24" x2="404.24" y1="249.2" y2="252.8" stroke="#333333" stroke-width="1.2"/>
<text x="404.24" y="263.5" font-size="10.67" text-anchor="middle" fill="#4D4D4D" font-weight="normal">75</text>
<line x1="444.8" x2="444.8" y1="249.2" y2="252.8" stroke="#333333" stroke-width="1.2"/>
<text x="444.8" y="263.5" font-size="10.67" text-anchor="middle" fill="#4D4D4D" font-weight="normal">100</text>
<line x1="271.1" x2="274.7" y1="204.5" y2="204.5" stroke="#333333" stroke-width="1.2"/>
<text x="268.4" y="209.1" font-size="10.67" text-anchor="end" fill="#4D4D4D" font-weight="normal">-5.0</text>
<line x1="271.1" x2="274.7" y1="157.95" y2="157.95" stroke="#333333" stroke-width="1.2"/>
<text x="268.4" y="162.55" font-size="10.67" text-anchor="end" fill="#4D4D4D" font-weight="normal">-2.5</text>
<line x1="271.1" x2="274.7" y1="111.4" y2="111.4" stroke="#333333" stroke-width="1.2"/>
<text x="268.4" y="116" font-size="10.67" text-anchor="end" fill="#4D4D4D" font-weight="normal">0.0</text>
<line x1="271.1" x2="274.7" y1="64.85" y2="64.85" stroke="#333333" stroke-width="1.2"/>
<text x="268.4" y="69.45" font-size="10.67" text-anchor="end" fill="#4D4D4D" font-weight="normal">2.5</text>
<text x="363.45" y="279.4" font-size="13.33" text-anchor="middle" fill="#000" font-weight="normal">% Gait cycle</text>
</g>
<g>
<rect x="494.3" y="23.5" width="189.5" height="225.7" fill="#fff"/>
<line x1="524.11" x2="524.11" y1="23.5" y2="249.2" stroke="#EBEBEB" stroke-width="0.7"/>
<line x1="567.34" x2="567.34" y1="23.5" y2="249.2" stroke="#EBEBEB" stroke-width="0.7"/>
<line x1="610.56" x2="610.56" y1="23.5" y2="249.2" stroke="#EBEBEB" stroke-width="0.7"/>
<line x1="653.79" x2="653.79" y1="23.5" y2="249.2" stroke="#EBEBEB" stroke-width="0.7"/>
<line x1="494.3" x2="683.8" y1="221.6" y2="221.6" stroke="#EBEBEB" stroke-width="0.7"/>
<line x1="494.3" x2="683.8" y1="139.4" y2="139.4" stroke="#EBEBEB" stroke-width="0.7"/>
<line x1="494.3" x2="683.8" y1="57.2" y2="57.2" stroke="#EBEBEB" stroke-width="0.7"/>
<line x1="502.5" x2="502.5" y1="23.5" y2="249.2" stroke="#EBEBEB" stroke-width="1.15"/>
<line x1="545.73" x2="545.73" y1="23.5" y2="249.2" stroke="#EBEBEB" stroke-width="1.15"/>
<line x1="588.95" x2="588.95" y1="23.5" y2="249.2" stroke="#EBEBEB" stroke-width="1.15"/>
<line x1="632.17" x2="632.17" y1="23.5" y2="249.2" stroke="#EBEBEB" stroke-width="1.15"/>
<line x1="675.4" x2="675.4" y1="23.5" y2="249.2" stroke="#EBEBEB" stroke-width="1.15"/>
<line x1="494.3" x2="683.8" y1="180.5" y2="180.5" stroke="#EBEBEB" stroke-width="1.15"/>
<line x1="494.3" x2="683.8" y1="98.3" y2="98.3" stroke="#EBEBEB" stroke-width="1.15"/>
<path d="M502.3 158.08C502.55 157.89 503.28 157.15 503.8 156.96C504.32 156.76 504.9 156.56 505.4 156.91C505.91 157.25 506.36 158.04 506.81 159.01C507.27 159.98 507.68 161.22 508.15 162.73C508.62 164.24 509.29 167.69 509.62 168.07C509.96 168.45 509.6 162.59 510.17 165C510.73 167.41 511.99 175.83 513.01 182.5C514.04 189.17 515.47 199.78 516.34 205C517.21 210.22 517.41 210.53 518.24 213.8C519.07 217.07 520.21 221.49 521.31 224.63C522.4 227.76 523.45 230.89 524.8 232.61C526.15 234.33 528.16 234.84 529.4 234.95C530.63 235.06 531.15 234.32 532.2 233.3C533.25 232.28 534.33 230.65 535.7 228.83C537.07 227.02 538.68 224.39 540.4 222.4C542.12 220.41 544 219.11 546.02 216.89C548.04 214.66 550.1 211.96 552.5 209.06C554.9 206.16 557.75 202.72 560.39 199.49C563.04 196.26 566.01 192.36 568.37 189.68C570.72 187 572.47 185.18 574.51 183.38C576.54 181.57 578.84 180.47 580.59 178.85C582.33 177.22 583.49 175.9 584.96 173.63C586.43 171.35 588.32 167.94 589.39 165.2C590.46 162.46 590.48 161.81 591.36 157.2C592.24 152.59 593.74 143.72 594.65 137.52C595.56 131.32 596.09 125.59 596.82 120C597.54 114.41 598.26 109.28 599.01 104C599.75 98.72 600.45 93.97 601.29 88.3C602.14 82.63 603.21 74.87 604.06 70C604.9 65.13 605.53 62.47 606.35 59.07C607.18 55.67 608.27 51.89 609 49.62C609.74 47.35 610.22 46.43 610.77 45.45C611.31 44.47 611.78 43.68 612.3 43.74C612.82 43.8 613.31 44.72 613.91 45.81C614.52 46.9 615.23 47.96 615.93 50.26C616.63 52.56 617.4 56.32 618.11 59.61C618.82 62.9 619.29 63.8 620.19 70C621.09 76.2 622.48 88.63 623.5 96.8C624.53 104.97 625.41 111.8 626.34 119C627.28 126.2 628.12 134.25 629.12 140C630.12 145.75 631.14 149.41 632.32 153.48C633.5 157.54 634.9 162.12 636.18 164.38C637.46 166.64 638.51 166.59 640.02 167.04C641.54 167.48 643.67 166.17 645.27 167.05C646.88 167.93 648.2 169.97 649.66 172.29C651.13 174.61 652.74 178.5 654.05 180.99C655.36 183.48 656.47 185.81 657.54 187.22C658.62 188.63 659.51 189.31 660.5 189.43C661.49 189.55 662.42 189.49 663.5 187.94C664.58 186.39 665.68 183.29 667 180.14C668.32 176.98 669.99 172.51 671.4 169C672.81 165.49 674.77 160.72 675.44 159.07" fill="none" stroke="#FF3030" stroke-width="2.7" stroke-linejoin="round" stroke-linecap="butt"/>
<path d="M502.3 149.94C502.55 149.63 503.25 148.5 503.8 148.08C504.35 147.66 505.05 147.29 505.61 147.43C506.18 147.57 506.68 148.08 507.19 148.93C507.69 149.79 508.05 150.78 508.63 152.54C509.21 154.29 510.05 157.4 510.66 159.47C511.28 161.55 511.52 161.16 512.3 165C513.08 168.84 514.25 175.83 515.35 182.5C516.45 189.17 517.99 199.78 518.89 205C519.8 210.22 520.03 210.81 520.77 213.8C521.51 216.79 522.46 220.39 523.33 222.95C524.19 225.52 524.93 227.64 525.95 229.19C526.97 230.75 528.41 231.97 529.45 232.29C530.49 232.61 531.16 231.94 532.2 231.11C533.24 230.27 534.33 228.89 535.7 227.29C537.07 225.69 538.71 223.51 540.4 221.51C542.09 219.51 543.81 217.84 545.83 215.31C547.85 212.77 550.02 209.69 552.5 206.3C554.98 202.91 558.12 198.44 560.7 194.97C563.29 191.5 565.81 188 568.01 185.49C570.2 182.99 571.87 181.54 573.87 179.92C575.86 178.3 578.25 177.41 579.99 175.75C581.73 174.1 582.99 172.32 584.3 170C585.61 167.68 586.9 164.75 587.85 161.86C588.8 158.96 589.2 156.8 590.01 152.65C590.82 148.49 591.79 142.39 592.72 136.95C593.65 131.51 594.76 125.49 595.59 120C596.41 114.51 596.99 109.28 597.68 104C598.37 98.72 598.95 93.97 599.72 88.3C600.49 82.63 601.41 75.43 602.31 70C603.21 64.57 604.14 60.3 605.11 55.71C606.08 51.11 607.27 45.66 608.12 42.42C608.97 39.18 609.5 37.71 610.19 36.28C610.89 34.85 611.58 33.93 612.3 33.84C613.02 33.75 613.84 34.48 614.54 35.76C615.24 37.04 615.64 38.32 616.51 41.52C617.38 44.72 618.66 50.2 619.75 54.95C620.83 59.69 621.87 63.02 623 70C624.14 76.98 625.47 88.63 626.57 96.8C627.67 104.97 628.64 111.8 629.63 119C630.62 126.2 631.56 134.59 632.52 140C633.48 145.41 634.49 148.45 635.4 151.47C636.3 154.48 636.95 156.5 637.94 158.08C638.93 159.66 640.02 160.36 641.33 160.96C642.64 161.55 644.32 160.64 645.78 161.64C647.24 162.64 648.67 164.59 650.11 166.98C651.56 169.38 653.15 173.36 654.44 176C655.74 178.64 656.88 181.29 657.89 182.84C658.9 184.39 659.57 185.25 660.5 185.3C661.43 185.35 662.42 184.92 663.5 183.15C664.58 181.38 665.68 178.15 667 174.69C668.32 171.23 670.02 166.23 671.4 162.41C672.78 158.6 674.63 153.58 675.28 151.82" fill="none" stroke="#000000" stroke-width="2.7" stroke-linejoin="round" stroke-linecap="butt"/>
<path d="M502.3 148.13C502.55 147.82 503.24 146.67 503.8 146.25C504.36 145.84 505.07 145.48 505.65 145.65C506.22 145.82 506.74 146.36 507.25 147.25C507.76 148.14 508.11 149.15 508.7 151C509.29 152.85 510.16 156.02 510.8 158.35C511.44 160.68 511.75 160.97 512.55 165C513.35 169.03 514.5 175.83 515.62 182.5C516.73 189.17 518.3 199.78 519.22 205C520.14 210.22 520.39 210.86 521.14 213.8C521.89 216.74 522.87 220.23 523.74 222.61C524.6 224.99 525.36 226.79 526.32 228.1C527.28 229.41 528.51 230.28 529.49 230.46C530.47 230.64 531.17 230.03 532.2 229.18C533.23 228.32 534.33 226.94 535.7 225.32C537.07 223.7 538.75 221.45 540.4 219.44C542.05 217.44 543.57 215.88 545.58 213.3C547.6 210.71 549.95 207.42 552.5 203.93C555.05 200.44 558.33 195.77 560.88 192.35C563.44 188.93 565.72 185.77 567.83 183.39C569.94 181.02 571.56 179.65 573.53 178.08C575.5 176.51 577.88 175.47 579.65 173.99C581.42 172.51 582.8 171.23 584.16 169.2C585.52 167.18 586.84 164.52 587.84 161.83C588.83 159.14 589.26 157.2 590.14 153.08C591.02 148.95 592.14 142.58 593.11 137.07C594.08 131.56 595.1 125.51 595.94 120C596.79 114.49 597.44 109.28 598.2 104C598.96 98.72 599.64 93.97 600.5 88.3C601.36 82.63 602.45 75.06 603.36 70C604.26 64.94 605.04 61.69 605.94 57.96C606.84 54.22 607.97 50.06 608.75 47.59C609.53 45.11 610.03 44.13 610.62 43.1C611.21 42.08 611.72 41.44 612.3 41.43C612.88 41.42 613.45 42.03 614.09 43.03C614.72 44.03 615.34 44.99 616.12 47.46C616.89 49.93 617.84 54.09 618.73 57.85C619.61 61.61 620.36 63.51 621.41 70C622.46 76.49 623.88 88.63 625.04 96.8C626.21 104.97 627.28 111.8 628.38 119C629.48 126.2 630.54 134.54 631.63 140C632.72 145.46 633.89 148.71 634.93 151.77C635.97 154.84 636.76 156.98 637.86 158.38C638.95 159.77 640.15 159.92 641.5 160.14C642.86 160.37 644.5 158.93 645.96 159.71C647.43 160.49 648.85 162.5 650.3 164.83C651.74 167.16 653.33 171.06 654.63 173.68C655.92 176.31 657.09 179.02 658.07 180.56C659.05 182.1 659.6 182.87 660.5 182.94C661.4 183.01 662.42 182.65 663.5 180.95C664.58 179.26 665.68 176.14 667 172.77C668.32 169.4 670.03 164.47 671.4 160.76C672.77 157.05 674.61 152.2 675.25 150.49" fill="none" stroke="#CD919E" stroke-width="2.7" stroke-linejoin="round" stroke-linecap="butt"/>
<path d="M502.3 145.28C502.55 144.96 503.23 143.79 503.8 143.39C504.37 143 505.12 142.72 505.71 142.91C506.3 143.1 506.83 143.63 507.35 144.55C507.87 145.47 508.2 146.47 508.82 148.44C509.44 150.41 510.34 153.61 511.04 156.37C511.74 159.13 512.16 160.65 513.01 165C513.86 169.35 515 175.83 516.13 182.5C517.26 189.17 518.85 199.78 519.79 205C520.72 210.22 520.98 210.95 521.75 213.8C522.51 216.65 523.51 219.97 524.36 222.1C525.2 224.23 525.97 225.57 526.83 226.59C527.69 227.61 528.64 228.13 529.54 228.22C530.44 228.3 531.17 227.89 532.2 227.11C533.23 226.33 534.33 225.06 535.7 223.54C537.07 222.02 538.77 219.87 540.4 217.99C542.03 216.11 543.44 214.73 545.46 212.26C547.47 209.8 549.92 206.61 552.5 203.18C555.08 199.75 558.38 195.08 560.93 191.69C563.48 188.31 565.7 185.22 567.78 182.87C569.87 180.52 571.48 179.17 573.44 177.62C575.41 176.07 577.79 175.02 579.56 173.55C581.34 172.09 582.74 170.84 584.1 168.85C585.46 166.86 586.73 164.27 587.73 161.59C588.72 158.92 589.18 156.91 590.06 152.82C590.94 148.73 592.06 142.51 593.03 137.04C594 131.57 595.04 125.51 595.89 120C596.74 114.49 597.37 109.28 598.12 104C598.87 98.72 599.55 93.97 600.4 88.3C601.25 82.63 602.32 75.1 603.22 70C604.13 64.9 604.93 61.52 605.84 57.68C606.75 53.83 607.89 49.51 608.67 46.93C609.46 44.35 609.96 43.3 610.56 42.22C611.17 41.14 611.7 40.47 612.3 40.44C612.9 40.41 613.5 41.03 614.15 42.07C614.79 43.11 615.38 44.1 616.17 46.66C616.96 49.22 617.95 53.55 618.87 57.44C619.78 61.33 620.58 63.44 621.66 70C622.73 76.56 624.14 88.63 625.33 96.8C626.52 104.97 627.64 111.8 628.79 119C629.93 126.2 631.06 134.61 632.2 140C633.33 145.39 634.56 148.57 635.59 151.34C636.61 154.11 637.27 155.58 638.35 156.62C639.42 157.66 640.74 157.61 642.06 157.57C643.38 157.52 644.85 155.76 646.28 156.35C647.7 156.94 649.17 158.91 650.61 161.12C652.06 163.33 653.65 167.06 654.95 169.6C656.25 172.14 657.48 174.9 658.41 176.37C659.33 177.85 659.65 178.4 660.5 178.46C661.35 178.51 662.42 178.29 663.5 176.7C664.58 175.12 665.68 172.15 667 168.93C668.32 165.72 670.04 160.95 671.4 157.43C672.76 153.91 674.56 149.44 675.19 147.84" fill="none" stroke="#8B008B" stroke-width="2.7" stroke-linejoin="round" stroke-linecap="butt"/>
<path d="M502.3 152.27C502.55 151.98 503.26 150.95 503.8 150.57C504.34 150.2 505.01 149.87 505.55 150.03C506.1 150.19 506.6 150.69 507.09 151.52C507.58 152.35 507.96 153.36 508.51 155.01C509.07 156.66 509.87 159.74 510.43 161.41C510.99 163.07 511.12 161.48 511.85 165C512.58 168.52 513.76 175.83 514.81 182.5C515.87 189.17 517.31 199.78 518.16 205C519 210.22 519.2 210.67 519.89 213.8C520.58 216.93 521.45 220.76 522.3 223.81C523.15 226.85 523.81 229.8 524.99 232.06C526.16 234.32 528.14 236.71 529.35 237.34C530.55 237.97 531.14 236.81 532.2 235.82C533.26 234.84 534.33 233.23 535.7 231.43C537.07 229.62 538.66 227.24 540.4 224.99C542.14 222.74 544.13 220.67 546.15 217.91C548.16 215.14 550.09 211.92 552.5 208.4C554.91 204.88 557.98 200.38 560.58 196.78C563.18 193.18 565.87 189.44 568.12 186.8C570.37 184.16 572.05 182.65 574.06 180.96C576.07 179.27 578.4 178.19 580.16 176.64C581.92 175.09 583.18 173.8 584.6 171.64C586.02 169.48 587.66 166.41 588.7 163.7C589.74 160.99 589.94 159.78 590.82 155.38C591.7 150.98 593.04 143.22 593.98 137.32C594.92 131.42 595.66 125.55 596.44 120C597.22 114.45 597.91 109.28 598.66 104C599.41 98.72 600.11 93.97 600.96 88.3C601.81 82.63 602.91 74.94 603.78 70C604.65 65.06 605.34 62.17 606.2 58.66C607.06 55.15 608.17 51.26 608.92 48.94C609.67 46.62 610.16 45.7 610.72 44.72C611.28 43.74 611.76 43.1 612.3 43.08C612.84 43.06 613.36 43.68 613.99 44.63C614.61 45.58 615.28 46.46 616.03 48.78C616.78 51.1 617.66 54.99 618.49 58.52C619.32 62.06 619.98 63.62 621 70C622.01 76.38 623.44 88.63 624.57 96.8C625.7 104.97 626.72 111.8 627.76 119C628.8 126.2 629.77 134.44 630.82 140C631.86 145.56 632.97 148.91 634.04 152.36C635.11 155.8 636.09 158.81 637.22 160.65C638.35 162.48 639.42 162.87 640.81 163.36C642.21 163.86 644.07 162.72 645.6 163.62C647.12 164.51 648.51 166.41 649.96 168.73C651.42 171.05 653.02 174.95 654.33 177.52C655.63 180.08 656.76 182.63 657.79 184.13C658.82 185.62 659.55 186.42 660.5 186.48C661.45 186.54 662.42 186.22 663.5 184.52C664.58 182.81 665.68 179.61 667 176.24C668.32 172.88 670.01 168.02 671.4 164.3C672.79 160.58 674.67 155.65 675.33 153.92" fill="none" stroke="#008B8B" stroke-width="2.7" stroke-linejoin="round" stroke-linecap="butt"/>
<path d="M502.3 142.55C502.55 142.12 503.22 140.62 503.8 140C504.38 139.38 505.18 138.72 505.8 138.8C506.42 138.88 506.97 139.53 507.5 140.5C508.03 141.47 508.35 142.45 509 144.6C509.65 146.75 510.62 150 511.4 153.4C512.18 156.8 512.78 160.15 513.7 165C514.62 169.85 515.75 175.83 516.9 182.5C518.05 189.17 519.65 199.78 520.6 205C521.55 210.22 521.83 211.07 522.6 213.8C523.37 216.53 524.38 219.6 525.2 221.4C526.02 223.2 526.77 223.93 527.5 224.6C528.23 225.27 528.82 225.5 529.6 225.4C530.38 225.3 531.18 224.87 532.2 224C533.22 223.13 534.33 221.82 535.7 220.2C537.07 218.58 538.85 216.25 540.4 214.3C541.95 212.35 542.98 211.13 545 208.5C547.02 205.87 549.78 202.2 552.5 198.5C555.22 194.8 558.82 189.65 561.3 186.3C563.78 182.95 565.5 180.52 567.4 178.4C569.3 176.28 570.8 175.07 572.7 173.6C574.6 172.13 577.02 171.03 578.8 169.6C580.58 168.17 582.15 166.85 583.4 165C584.65 163.15 585.38 161.18 586.3 158.5C587.22 155.82 588.03 152.55 588.9 148.9C589.77 145.25 590.48 141.42 591.5 136.6C592.52 131.78 594.03 125.43 595 120C595.97 114.57 596.53 109.28 597.3 104C598.07 98.72 598.73 93.97 599.6 88.3C600.47 82.63 601.53 75.3 602.5 70C603.47 64.7 604.42 60.72 605.4 56.5C606.38 52.28 607.57 47.52 608.4 44.7C609.23 41.88 609.75 40.75 610.4 39.6C611.05 38.45 611.65 37.8 612.3 37.8C612.95 37.8 613.63 38.45 614.3 39.6C614.97 40.75 615.48 41.88 616.3 44.7C617.12 47.52 618.22 52.28 619.2 56.5C620.18 60.72 621.08 63.28 622.2 70C623.32 76.72 624.73 88.63 625.9 96.8C627.07 104.97 628.12 111.8 629.2 119C630.28 126.2 631.35 134.6 632.4 140C633.45 145.4 634.55 148.48 635.5 151.4C636.45 154.32 637.08 156.12 638.1 157.5C639.12 158.88 640.28 159.4 641.6 159.7C642.92 160 644.53 158.65 646 159.3C647.47 159.95 648.93 161.57 650.4 163.6C651.87 165.63 653.48 169.15 654.8 171.5C656.12 173.85 657.35 176.38 658.3 177.7C659.25 179.02 659.63 179.55 660.5 179.4C661.37 179.25 662.42 178.7 663.5 176.8C664.58 174.9 665.68 171.65 667 168C668.32 164.35 670.05 158.92 671.4 154.9C672.75 150.88 674.48 145.73 675.1 143.9" fill="none" stroke="#CD8500" stroke-width="2.7" stroke-linejoin="round" stroke-linecap="butt"/>
<path d="M502.3 155.1C502.55 154.8 503.27 153.73 503.8 153.3C504.33 152.87 504.97 152.38 505.5 152.5C506.03 152.62 506.52 153.18 507 154C507.48 154.82 507.87 155.85 508.4 157.4C508.93 158.95 509.7 162.03 510.2 163.3C510.7 164.57 510.72 161.8 511.4 165C512.08 168.2 513.27 175.83 514.3 182.5C515.33 189.17 516.77 199.78 517.6 205C518.43 210.22 518.62 210.58 519.3 213.8C519.98 217.02 520.83 221.02 521.7 224.3C522.57 227.58 523.23 230.97 524.5 233.5C525.77 236.03 528.02 238.7 529.3 239.45C530.58 240.2 531.13 238.97 532.2 238C533.27 237.03 534.33 235.4 535.7 233.6C537.07 231.8 538.62 229.47 540.4 227.2C542.18 224.93 544.38 222.73 546.4 220C548.42 217.27 550.17 214.23 552.5 210.8C554.83 207.37 557.77 203.05 560.4 199.4C563.03 195.75 565.97 191.67 568.3 188.9C570.63 186.13 572.37 184.55 574.4 182.8C576.43 181.05 578.75 179.98 580.5 178.4C582.25 176.82 583.43 175.53 584.9 173.3C586.37 171.07 588.23 167.72 589.3 165C590.37 162.28 590.42 161.58 591.3 157C592.18 152.42 593.68 143.67 594.6 137.5C595.52 131.33 596.07 125.58 596.8 120C597.53 114.42 598.25 109.28 599 104C599.75 98.72 600.45 93.97 601.3 88.3C602.15 82.63 603.25 74.85 604.1 70C604.95 65.15 605.58 62.53 606.4 59.2C607.22 55.87 608.32 52.2 609.05 50C609.78 47.8 610.26 46.93 610.8 46C611.34 45.07 611.78 44.4 612.3 44.4C612.82 44.4 613.29 45.07 613.9 46C614.51 46.93 615.23 47.8 615.95 50C616.68 52.2 617.48 55.87 618.25 59.2C619.02 62.53 619.59 63.73 620.55 70C621.51 76.27 622.92 88.63 624 96.8C625.08 104.97 626.03 111.8 627 119C627.97 126.2 628.82 134.32 629.8 140C630.78 145.68 631.8 149.17 632.9 153.1C634 157.03 635.23 161.18 636.4 163.6C637.57 166.02 638.45 166.72 639.9 167.6C641.35 168.48 643.5 167.8 645.1 168.9C646.7 170 648.03 171.87 649.5 174.2C650.97 176.53 652.58 180.43 653.9 182.9C655.22 185.37 656.3 187.62 657.4 189C658.5 190.38 659.48 191.2 660.5 191.2C661.52 191.2 662.42 190.82 663.5 189C664.58 187.18 665.68 183.8 667 180.3C668.32 176.8 670 171.87 671.4 168C672.8 164.13 674.73 158.92 675.4 157.1" fill="none" stroke="#00008B" stroke-width="2.7" stroke-linejoin="round" stroke-linecap="butt"/>
<rect x="494.3" y="23.5" width="189.5" height="225.7" fill="none" stroke="#626262" stroke-width="1.0"/>
<line x1="502.5" x2="502.5" y1="249.2" y2="252.8" stroke="#333333" stroke-width="1.2"/>
<text x="502.5" y="263.5" font-size="10.67" text-anchor="middle" fill="#4D4D4D" font-weight="normal">0</text>
<line x1="545.73" x2="545.73" y1="249.2" y2="252.8" stroke="#333333" stroke-width="1.2"/>
<text x="545.73" y="263.5" font-size="10.67" text-anchor="middle" fill="#4D4D4D" font-weight="normal">25</text>
<line x1="588.95" x2="588.95" y1="249.2" y2="252.8" stroke="#333333" stroke-width="1.2"/>
<text x="588.95" y="263.5" font-size="10.67" text-anchor="middle" fill="#4D4D4D" font-weight="normal">50</text>
<line x1="632.17" x2="632.17" y1="249.2" y2="252.8" stroke="#333333" stroke-width="1.2"/>
<text x="632.17" y="263.5" font-size="10.67" text-anchor="middle" fill="#4D4D4D" font-weight="normal">75</text>
<line x1="675.4" x2="675.4" y1="249.2" y2="252.8" stroke="#333333" stroke-width="1.2"/>
<text x="675.4" y="263.5" font-size="10.67" text-anchor="middle" fill="#4D4D4D" font-weight="normal">100</text>
<line x1="490.7" x2="494.3" y1="180.5" y2="180.5" stroke="#333333" stroke-width="1.2"/>
<text x="488" y="185.1" font-size="10.67" text-anchor="end" fill="#4D4D4D" font-weight="normal">0</text>
<line x1="490.7" x2="494.3" y1="98.3" y2="98.3" stroke="#333333" stroke-width="1.2"/>
<text x="488" y="102.9" font-size="10.67" text-anchor="end" fill="#4D4D4D" font-weight="normal">5</text>
<text x="588.85" y="279.4" font-size="13.33" text-anchor="middle" fill="#000" font-weight="normal">% Gait cycle</text>
</g>
<text x="40.3" y="13.65" font-size="15.9" text-anchor="start" fill="#000" font-weight="normal">(+) Dorsiflexion</text>
<text x="274.6" y="13.65" font-size="15.9" text-anchor="start" fill="#000" font-weight="normal">(+) Inversion</text>
<text x="493.3" y="13.65" font-size="15.9" text-anchor="start" fill="#000" font-weight="normal">(+) Adduction</text>
<text x="0.45" y="11.1" font-size="13.9" text-anchor="start" fill="#000" font-weight="bold">a</text>
<text x="232.2" y="11.1" font-size="13.9" text-anchor="start" fill="#000" font-weight="bold">b</text>
<text x="463.5" y="11.1" font-size="13.9" text-anchor="start" fill="#000" font-weight="bold">c</text>
<text transform="translate(13.2,136.35) rotate(-90)" font-size="13.5" text-anchor="middle">Degrees (º)</text>
<text transform="translate(243.8,136.35) rotate(-90)" font-size="13.5" text-anchor="middle">Degrees (º)</text>
<text transform="translate(475.6,136.35) rotate(-90)" font-size="13.5" text-anchor="middle">Degrees (º)</text>
<line x1="39.9" x2="56.5" y1="305.2" y2="305.2" stroke="#FF3030" stroke-width="2.5"/>
<text x="65.1" y="309.2" font-size="10.67" text-anchor="start" fill="#000" font-weight="normal">Control</text>
<line x1="109" x2="125.6" y1="305.2" y2="305.2" stroke="#000000" stroke-width="2.5"/>
<text x="134.2" y="309.2" font-size="10.67" text-anchor="start" fill="#000" font-weight="normal">SUB@15Hz</text>
<line x1="201.4" x2="218" y1="305.2" y2="305.2" stroke="#CD919E" stroke-width="2.5"/>
<text x="226.6" y="309.2" font-size="10.67" text-anchor="start" fill="#000" font-weight="normal">SUB@30Hz</text>
<line x1="294" x2="310.6" y1="305.2" y2="305.2" stroke="#8B008B" stroke-width="2.5"/>
<text x="319.2" y="309.2" font-size="10.67" text-anchor="start" fill="#000" font-weight="normal">SUB@50Hz</text>
<line x1="386.9" x2="403.5" y1="305.2" y2="305.2" stroke="#008B8B" stroke-width="2.5"/>
<text x="412.1" y="309.2" font-size="10.67" text-anchor="start" fill="#000" font-weight="normal">SUP@15Hz</text>
<line x1="479.4" x2="496" y1="305.2" y2="305.2" stroke="#CD8500" stroke-width="2.5"/>
<text x="504.6" y="309.2" font-size="10.67" text-anchor="start" fill="#000" font-weight="normal">SUP@30Hz</text>
<line x1="572" x2="588.6" y1="305.2" y2="305.2" stroke="#00008B" stroke-width="2.5"/>
<text x="597.2" y="309.2" font-size="10.67" text-anchor="start" fill="#000" font-weight="normal">SUP@50Hz</text>
<line x1="194.4" x2="677.5" y1="359.2" y2="359.2" stroke="#EBEBEB" stroke-width="1.0"/>
<line x1="194.4" x2="677.5" y1="388.3" y2="388.3" stroke="#EBEBEB" stroke-width="1.0"/>
<line x1="194.4" x2="677.5" y1="417.4" y2="417.4" stroke="#EBEBEB" stroke-width="1.0"/>
<line x1="194.4" x2="677.5" y1="446.5" y2="446.5" stroke="#EBEBEB" stroke-width="1.0"/>
<line x1="194.4" x2="677.5" y1="475.6" y2="475.6" stroke="#EBEBEB" stroke-width="1.0"/>
<line x1="194.4" x2="677.5" y1="504.7" y2="504.7" stroke="#EBEBEB" stroke-width="1.0"/>
<line x1="194.4" x2="677.5" y1="533.8" y2="533.8" stroke="#EBEBEB" stroke-width="1.0"/>
<line x1="263.41" x2="263.41" y1="350.1" y2="542.7" stroke="#EBEBEB" stroke-width="1.0"/>
<line x1="378.44" x2="378.44" y1="350.1" y2="542.7" stroke="#EBEBEB" stroke-width="1.0"/>
<line x1="493.46" x2="493.46" y1="350.1" y2="542.7" stroke="#EBEBEB" stroke-width="1.0"/>
<line x1="608.49" x2="608.49" y1="350.1" y2="542.7" stroke="#EBEBEB" stroke-width="1.0"/>
<rect x="211.65" y="417.4" width="103.52" height="116.4" fill="#0072B5"/>
<text x="263.41" y="431.4" font-size="14.5" text-anchor="middle" fill="#fff" font-weight="normal">SUB@50Hz</text>
<text x="263.41" y="460.5" font-size="14.5" text-anchor="middle" fill="#fff" font-weight="normal">SUP@30Hz</text>
<text x="263.41" y="489.6" font-size="14.5" text-anchor="middle" fill="#fff" font-weight="normal">SUB@30Hz</text>
<text x="263.41" y="518.7" font-size="14.5" text-anchor="middle" fill="#fff" font-weight="normal">SUP@15Hz</text>
<rect x="326.68" y="359.2" width="103.52" height="174.6" fill="#BC3C29"/>
<text x="378.44" y="373.2" font-size="14.5" text-anchor="middle" fill="#fff" font-weight="normal">SUP@50Hz</text>
<text x="378.44" y="402.3" font-size="14.5" text-anchor="middle" fill="#fff" font-weight="normal">SUB@50Hz</text>
<text x="378.44" y="431.4" font-size="14.5" text-anchor="middle" fill="#fff" font-weight="normal">SUP@30Hz</text>
<text x="378.44" y="460.5" font-size="14.5" text-anchor="middle" fill="#fff" font-weight="normal">SUB@30Hz</text>
<text x="378.44" y="489.6" font-size="14.5" text-anchor="middle" fill="#fff" font-weight="normal">SUP@15Hz</text>
<text x="378.44" y="518.7" font-size="14.5" text-anchor="middle" fill="#fff" font-weight="normal">SUB@15Hz</text>
<rect x="441.7" y="504.7" width="103.52" height="29.1" fill="#0072B5"/>
<text x="493.46" y="518.7" font-size="14.5" text-anchor="middle" fill="#fff" font-weight="normal">SUP@50Hz</text>
<rect x="556.73" y="504.7" width="103.52" height="29.1" fill="#E18727"/>
<text x="608.49" y="518.7" font-size="14.5" text-anchor="middle" fill="#fff" font-weight="normal">SUP@30Hz</text>
<text x="155.4" y="348.7" font-size="16.0" text-anchor="start" fill="#000" font-weight="normal">d</text>
<text x="2.6" y="416.9" font-size="13.33" text-anchor="start" fill="#000" font-weight="normal">Right ankle joint movement</text>
<rect x="3.1" y="425.7" width="19.2" height="18.9" fill="#BC3C29"/>
<text x="29.4" y="439" font-size="10.67" text-anchor="start" fill="#000" font-weight="normal">Dorsiflexion/plantarflexion</text>
<rect x="3.1" y="446.4" width="19.2" height="18.9" fill="#0072B5"/>
<text x="29.4" y="459.7" font-size="10.67" text-anchor="start" fill="#000" font-weight="normal">Eversion/inversion</text>
<rect x="3.1" y="467.1" width="19.2" height="18.9" fill="#E18727"/>
<text x="29.4" y="480.4" font-size="10.67" text-anchor="start" fill="#000" font-weight="normal">Abduction/adduction</text>
<rect x="21.7" y="574.2" width="120.9" height="15.4" fill="#F2F2F2"/>
<rect x="194.4" y="574.2" width="483.1" height="15.4" fill="#F2F2F2"/>
<rect x="21.7" y="601.6" width="120.9" height="11.6" fill="#F2F2F2"/>
<rect x="194.4" y="601.6" width="483.1" height="11.6" fill="#F2F2F2"/>
<rect x="21.7" y="625" width="120.9" height="11.6" fill="#F2F2F2"/>
<rect x="194.4" y="625" width="483.1" height="11.6" fill="#F2F2F2"/>
<rect x="21.7" y="648.3" width="120.9" height="11.6" fill="#F2F2F2"/>
<rect x="194.4" y="648.3" width="483.1" height="11.6" fill="#F2F2F2"/>
<rect x="45.3" y="587.34" width="91.9" height="10.5" fill="#0072B5"/>
<path d="M125.65 594.59h4.5" stroke="#fff" stroke-width="1.3" fill="none"/>
<rect x="26.92" y="610.82" width="110.28" height="10.5" fill="#BC3C29"/>
<path d="M123.75 616.27h8.3M127.9 612.12v8.3" stroke="#fff" stroke-width="1.25" fill="none"/>
<rect x="63.68" y="646.04" width="73.52" height="10.5" fill="#0072B5"/>
<path d="M123.75 651.49h8.3M127.9 647.34v8.3" stroke="#fff" stroke-width="1.25" fill="none"/>
<rect x="118.82" y="657.78" width="18.38" height="10.5" fill="#E18727"/>
<path d="M123.75 663.23h8.3M127.9 659.08v8.3" stroke="#fff" stroke-width="1.25" fill="none"/>
<text x="137.2" y="684.2" font-size="10.67" text-anchor="middle" fill="#4D4D4D" font-weight="normal">0</text>
<text x="100.44" y="684.2" font-size="10.67" text-anchor="middle" fill="#4D4D4D" font-weight="normal">2</text>
<text x="63.68" y="684.2" font-size="10.67" text-anchor="middle" fill="#4D4D4D" font-weight="normal">4</text>
<text x="26.92" y="684.2" font-size="10.67" text-anchor="middle" fill="#4D4D4D" font-weight="normal">6</text>
<text x="9.2" y="572.5" font-size="16.0" text-anchor="start" fill="#000" font-weight="normal">e</text>
<text x="158" y="572.6" font-size="16.0" text-anchor="start" fill="#000" font-weight="normal">f</text>
<text x="188.4" y="585.45" font-size="10.4" text-anchor="end" fill="#4D4D4D" font-weight="normal">TSw</text>
<text x="188.4" y="597.19" font-size="10.4" text-anchor="end" fill="#4D4D4D" font-weight="normal">MSw</text>
<text x="188.4" y="608.93" font-size="10.4" text-anchor="end" fill="#4D4D4D" font-weight="normal">ISw</text>
<text x="188.4" y="620.67" font-size="10.4" text-anchor="end" fill="#4D4D4D" font-weight="normal">PSw</text>
<text x="188.4" y="632.41" font-size="10.4" text-anchor="end" fill="#4D4D4D" font-weight="normal">TS</text>
<text x="188.4" y="644.15" font-size="10.4" text-anchor="end" fill="#4D4D4D" font-weight="normal">MS</text>
<text x="188.4" y="655.89" font-size="10.4" text-anchor="end" fill="#4D4D4D" font-weight="normal">LR</text>
<text x="188.4" y="667.63" font-size="10.4" text-anchor="end" fill="#4D4D4D" font-weight="normal">IC</text>
<line x1="263.41" x2="263.41" y1="592.59" y2="651.29" stroke="#000" stroke-width="1"/>
<circle cx="263.41" cy="580.85" r="4.9" fill="#D9D9D9" stroke="#B2B2B2" stroke-width="0.8"/>
<circle cx="263.41" cy="604.33" r="4.9" fill="#D9D9D9" stroke="#B2B2B2" stroke-width="0.8"/>
<circle cx="263.41" cy="616.07" r="4.9" fill="#D9D9D9" stroke="#B2B2B2" stroke-width="0.8"/>
<circle cx="263.41" cy="627.81" r="4.9" fill="#D9D9D9" stroke="#B2B2B2" stroke-width="0.8"/>
<circle cx="263.41" cy="639.55" r="4.9" fill="#D9D9D9" stroke="#B2B2B2" stroke-width="0.8"/>
<circle cx="263.41" cy="663.03" r="4.9" fill="#D9D9D9" stroke="#B2B2B2" stroke-width="0.8"/>
<line x1="263.41" x2="263.41" y1="592.59" y2="651.29" stroke="#000" stroke-width="1"/>
<circle cx="263.41" cy="592.59" r="5.3" fill="#000"/>
<circle cx="263.41" cy="651.29" r="5.3" fill="#000"/>
<circle cx="378.44" cy="580.85" r="4.9" fill="#D9D9D9" stroke="#B2B2B2" stroke-width="0.8"/>
<circle cx="378.44" cy="592.59" r="4.9" fill="#D9D9D9" stroke="#B2B2B2" stroke-width="0.8"/>
<circle cx="378.44" cy="604.33" r="4.9" fill="#D9D9D9" stroke="#B2B2B2" stroke-width="0.8"/>
<circle cx="378.44" cy="627.81" r="4.9" fill="#D9D9D9" stroke="#B2B2B2" stroke-width="0.8"/>
<circle cx="378.44" cy="639.55" r="4.9" fill="#D9D9D9" stroke="#B2B2B2" stroke-width="0.8"/>
<circle cx="378.44" cy="651.29" r="4.9" fill="#D9D9D9" stroke="#B2B2B2" stroke-width="0.8"/>
<circle cx="378.44" cy="663.03" r="4.9" fill="#D9D9D9" stroke="#B2B2B2" stroke-width="0.8"/>
<circle cx="378.44" cy="616.07" r="5.3" fill="#000"/>
<circle cx="493.46" cy="580.85" r="4.9" fill="#D9D9D9" stroke="#B2B2B2" stroke-width="0.8"/>
<circle cx="493.46" cy="604.33" r="4.9" fill="#D9D9D9" stroke="#B2B2B2" stroke-width="0.8"/>
<circle cx="493.46" cy="616.07" r="4.9" fill="#D9D9D9" stroke="#B2B2B2" stroke-width="0.8"/>
<circle cx="493.46" cy="627.81" r="4.9" fill="#D9D9D9" stroke="#B2B2B2" stroke-width="0.8"/>
<circle cx="493.46" cy="639.55" r="4.9" fill="#D9D9D9" stroke="#B2B2B2" stroke-width="0.8"/>
<circle cx="493.46" cy="651.29" r="4.9" fill="#D9D9D9" stroke="#B2B2B2" stroke-width="0.8"/>
<circle cx="493.46" cy="663.03" r="4.9" fill="#D9D9D9" stroke="#B2B2B2" stroke-width="0.8"/>
<circle cx="493.46" cy="592.59" r="5.3" fill="#000"/>
<circle cx="608.49" cy="580.85" r="4.9" fill="#D9D9D9" stroke="#B2B2B2" stroke-width="0.8"/>
<circle cx="608.49" cy="592.59" r="4.9" fill="#D9D9D9" stroke="#B2B2B2" stroke-width="0.8"/>
<circle cx="608.49" cy="604.33" r="4.9" fill="#D9D9D9" stroke="#B2B2B2" stroke-width="0.8"/>
<circle cx="608.49" cy="616.07" r="4.9" fill="#D9D9D9" stroke="#B2B2B2" stroke-width="0.8"/>
<circle cx="608.49" cy="627.81" r="4.9" fill="#D9D9D9" stroke="#B2B2B2" stroke-width="0.8"/>
<circle cx="608.49" cy="639.55" r="4.9" fill="#D9D9D9" stroke="#B2B2B2" stroke-width="0.8"/>
<circle cx="608.49" cy="651.29" r="4.9" fill="#D9D9D9" stroke="#B2B2B2" stroke-width="0.8"/>
<circle cx="608.49" cy="663.03" r="5.3" fill="#000"/>
<text x="436" y="698.8" font-size="13.33" text-anchor="middle" fill="#000" font-weight="normal">Phases of the gait cycle</text>
</svg>
</body></html>
